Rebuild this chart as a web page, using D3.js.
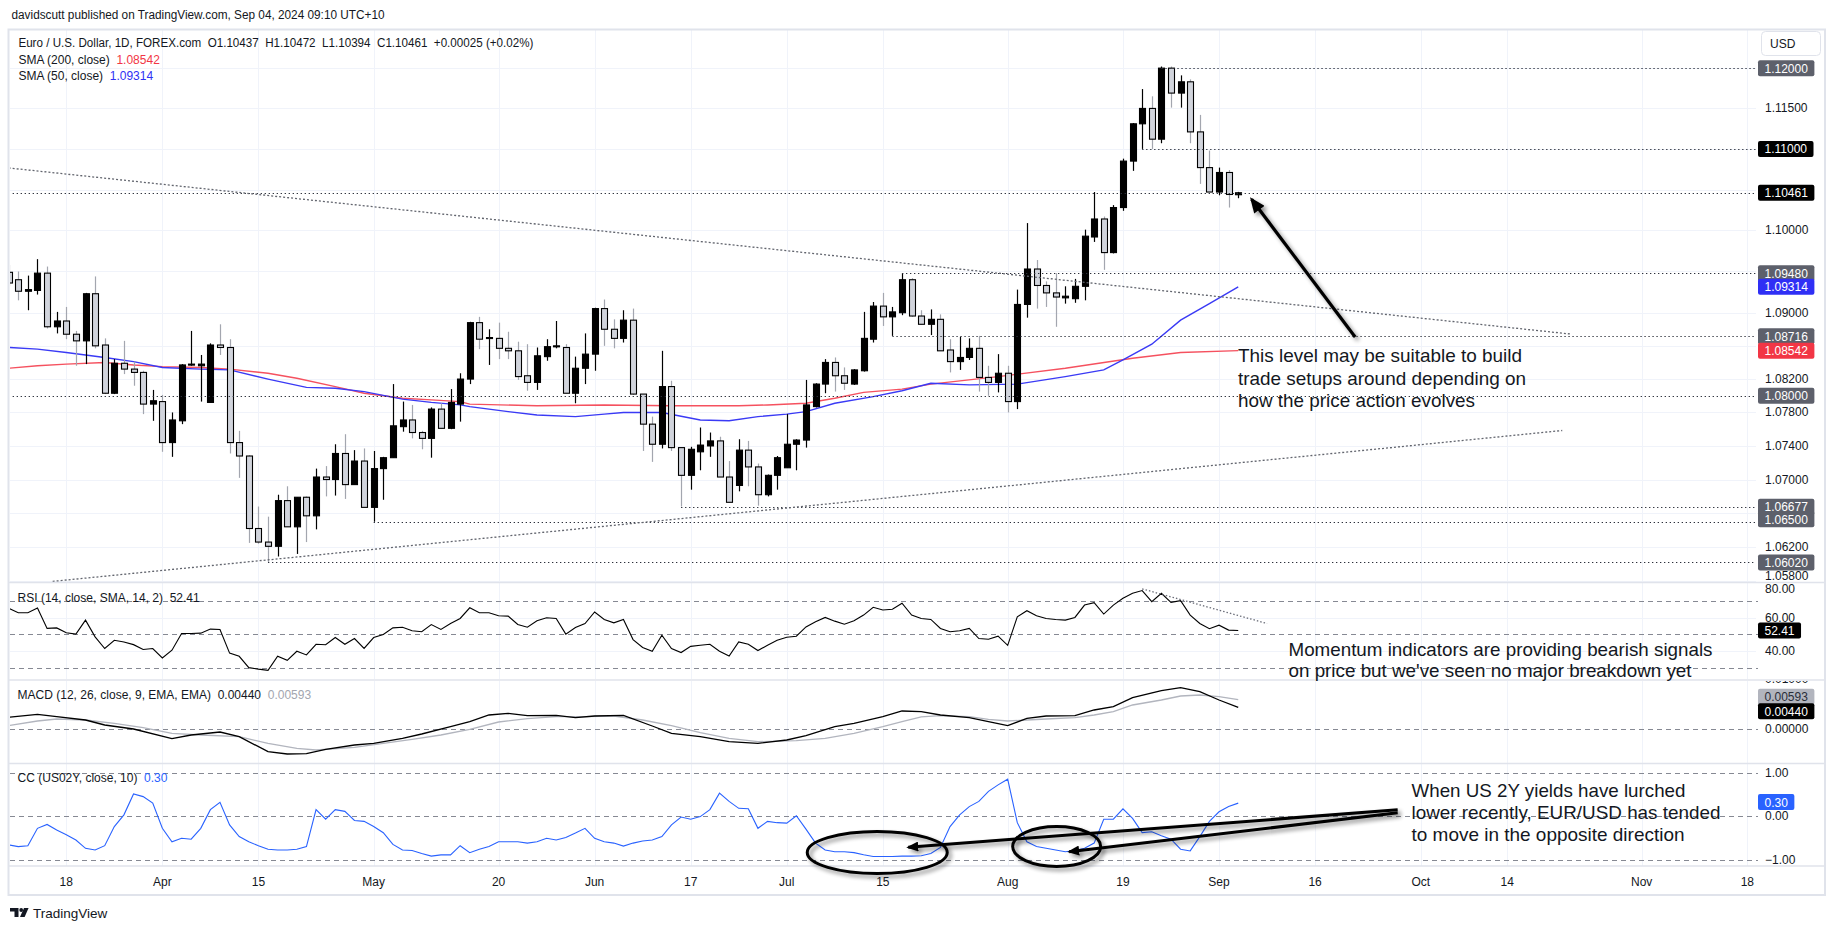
<!DOCTYPE html>
<html><head><meta charset="utf-8">
<script src="https://cdn.jsdelivr.net/npm/d3@7"></script>
<style>
html,body{margin:0;padding:0;background:#fff;}
svg{display:block;}
text{font-family:"Liberation Sans",Arial,sans-serif;white-space:pre;}
</style></head>
<body>
<svg id="chart" width="1835" height="931"></svg>
<script>
// ================= DATA =================
const dates = [
"2024-03-08","2024-03-11","2024-03-12","2024-03-13","2024-03-14","2024-03-15","2024-03-18","2024-03-19","2024-03-20","2024-03-21",
"2024-03-22","2024-03-25","2024-03-26","2024-03-27","2024-03-28","2024-03-29","2024-04-01","2024-04-02","2024-04-03","2024-04-04",
"2024-04-05","2024-04-08","2024-04-09","2024-04-10","2024-04-11","2024-04-12","2024-04-15","2024-04-16","2024-04-17","2024-04-18",
"2024-04-19","2024-04-22","2024-04-23","2024-04-24","2024-04-25","2024-04-26","2024-04-29","2024-04-30","2024-05-01","2024-05-02",
"2024-05-03","2024-05-06","2024-05-07","2024-05-08","2024-05-09","2024-05-10","2024-05-13","2024-05-14","2024-05-15","2024-05-16",
"2024-05-17","2024-05-20","2024-05-21","2024-05-22","2024-05-23","2024-05-24","2024-05-27","2024-05-28","2024-05-29","2024-05-30",
"2024-05-31","2024-06-03","2024-06-04","2024-06-05","2024-06-06","2024-06-07","2024-06-10","2024-06-11","2024-06-12","2024-06-13",
"2024-06-14","2024-06-17","2024-06-18","2024-06-19","2024-06-20","2024-06-21","2024-06-24","2024-06-25","2024-06-26","2024-06-27",
"2024-06-28","2024-07-01","2024-07-02","2024-07-03","2024-07-04","2024-07-05","2024-07-08","2024-07-09","2024-07-10","2024-07-11",
"2024-07-12","2024-07-15","2024-07-16","2024-07-17","2024-07-18","2024-07-19","2024-07-22","2024-07-23","2024-07-24","2024-07-25",
"2024-07-26","2024-07-29","2024-07-30","2024-07-31","2024-08-01","2024-08-02","2024-08-05","2024-08-06","2024-08-07","2024-08-08",
"2024-08-09","2024-08-12","2024-08-13","2024-08-14","2024-08-15","2024-08-16","2024-08-19","2024-08-20","2024-08-21","2024-08-22",
"2024-08-23","2024-08-26","2024-08-27","2024-08-28","2024-08-29","2024-08-30","2024-09-02","2024-09-03","2024-09-04"];

const opens = [
1.0949,1.0940,1.0926,1.0927,1.0948,1.0883,1.0890,1.0874,1.0866,1.0923,
1.0861,1.0803,1.0839,1.0832,1.0828,1.0790,1.0793,1.0744,1.0770,1.0837,
1.0836,1.0792,1.0861,1.0858,1.0744,1.0728,1.0642,1.0626,1.0621,1.0675,
1.0644,1.0679,1.0657,1.0703,1.0700,1.0731,1.0694,1.0722,1.0667,1.0713,
1.0726,1.0763,1.0771,1.0756,1.0749,1.0784,1.0761,1.0790,1.0820,1.0888,
1.0869,1.0869,1.0857,1.0854,1.0824,1.0816,1.0847,1.0859,1.0858,1.0803,
1.0833,1.0850,1.0905,1.0880,1.0869,1.0891,1.0802,1.0766,1.0742,1.0811,
1.0738,1.0705,1.0733,1.0740,1.0746,1.0703,1.0693,1.0735,1.0715,1.0682,
1.0705,1.0714,1.0742,1.0747,1.0787,1.0814,1.0840,1.0824,1.0814,1.0830,
1.0868,1.0908,1.0895,1.0900,1.0940,1.0896,1.0886,1.0892,1.0855,1.0841,
1.0846,1.0857,1.0822,1.0816,1.0827,1.0793,1.0910,1.0953,1.0933,1.0924,
1.0918,1.0917,1.0932,1.0992,1.1014,1.0973,1.1028,1.1085,1.1131,1.1150,
1.1112,1.1200,1.1169,1.1183,1.1121,1.1077,1.1047,1.1071,1.10437];

const highs = [
1.0958,1.0950,1.0945,1.0965,1.0956,1.0901,1.0907,1.0878,1.0924,1.0944,
1.0869,1.0844,1.0866,1.0841,1.0830,1.0807,1.0801,1.0780,1.0838,1.0878,
1.0849,1.0863,1.0886,1.0868,1.0758,1.0729,1.0668,1.0656,1.0682,1.0692,
1.0679,1.0680,1.0713,1.0716,1.0742,1.0754,1.0735,1.0737,1.0734,1.0727,
1.0814,1.0793,1.0789,1.0758,1.0786,1.0791,1.0808,1.0827,1.0889,1.0895,
1.0880,1.0888,1.0877,1.0865,1.0862,1.0858,1.0868,1.0890,1.0862,1.0847,
1.0875,1.0906,1.0916,1.0892,1.0903,1.0905,1.0802,1.0775,1.0854,1.0818,
1.0738,1.0739,1.0762,1.0756,1.0751,1.0722,1.0748,1.0746,1.0719,1.0706,
1.0728,1.0778,1.0748,1.0819,1.0815,1.0844,1.0846,1.0834,1.0832,1.0901,
1.0913,1.0924,1.0907,1.0948,1.0942,1.0903,1.0904,1.0898,1.0868,1.0871,
1.0869,1.0872,1.0836,1.0850,1.0836,1.0928,1.1009,1.0964,1.0938,1.0948,
1.0932,1.0941,1.1001,1.1047,1.1017,1.1031,1.1088,1.1132,1.1174,1.1165,
1.1202,1.1202,1.1191,1.1186,1.1142,1.1098,1.1077,1.1074,1.10472];

const lows = [
1.0932,1.0915,1.0903,1.0922,1.0881,1.0875,1.0868,1.0836,1.0838,1.0857,
1.0802,1.0802,1.0826,1.0812,1.0778,1.0770,1.0733,1.0727,1.0766,1.0836,
1.0793,1.0792,1.0849,1.0731,1.0702,1.0625,1.0624,1.0602,1.0609,1.0644,
1.0612,1.0626,1.0641,1.0680,1.0681,1.0677,1.0694,1.0667,1.0650,1.0676,
1.0726,1.0757,1.0749,1.0736,1.0726,1.0761,1.0760,1.0769,1.0814,1.0856,
1.0837,1.0844,1.0844,1.0819,1.0806,1.0807,1.0842,1.0857,1.0803,1.0791,
1.0814,1.0830,1.0860,1.0857,1.0864,1.0801,1.0734,1.0721,1.0737,1.0734,
1.0668,1.0688,1.0711,1.0727,1.0703,1.0673,1.0686,1.0692,1.0669,1.0680,
1.0688,1.0714,1.0711,1.0738,1.0786,1.0803,1.0805,1.0807,1.0813,1.0829,
1.0864,1.0884,1.0872,1.0897,1.0895,1.0886,1.0873,1.0854,1.0828,1.0831,
1.0843,1.0805,1.0800,1.0804,1.0780,1.0784,1.0894,1.0905,1.0907,1.0883,
1.0911,1.0912,1.0915,1.0986,1.0952,1.0972,1.1024,1.1073,1.1100,1.1100,
1.1107,1.1151,1.1151,1.1107,1.1057,1.1047,1.1043,1.1028,1.10394];

const closes = [
1.0936,1.0926,1.0928,1.0948,1.0883,1.0890,1.0874,1.0866,1.0923,1.0860,
1.0803,1.0839,1.0832,1.0828,1.0790,1.0794,1.0744,1.0771,1.0837,1.0838,
1.0838,1.0861,1.0858,1.0744,1.0728,1.0642,1.0626,1.0621,1.0675,1.0644,
1.0679,1.0657,1.0703,1.0700,1.0731,1.0694,1.0722,1.0667,1.0713,1.0726,
1.0764,1.0771,1.0756,1.0749,1.0784,1.0761,1.0792,1.0820,1.0888,1.0868,
1.0870,1.0857,1.0854,1.0823,1.0816,1.0848,1.0859,1.0860,1.0803,1.0833,
1.0850,1.0905,1.0880,1.0869,1.0891,1.0802,1.0766,1.0742,1.0811,1.0738,
1.0705,1.0736,1.0741,1.0746,1.0703,1.0673,1.0735,1.0715,1.0682,1.0705,
1.0726,1.0742,1.0747,1.0789,1.0814,1.0840,1.0824,1.0815,1.0831,1.0869,
1.0908,1.0895,1.0901,1.0940,1.0896,1.0886,1.0892,1.0854,1.0841,1.0846,
1.0857,1.0822,1.0816,1.0827,1.0793,1.0910,1.0953,1.0933,1.0924,1.0919,
1.0920,1.0932,1.0993,1.1014,1.0973,1.1028,1.1085,1.1131,1.1150,1.1112,
1.1200,1.1169,1.1183,1.1121,1.1077,1.1047,1.1071,1.1044,1.10461];

// SMA lines: [bar slot, value]
const sma50 = [[0,1.0858],[3,1.0856],[6,1.0852],[10,1.0846],[13,1.0841],[16,1.0834],[20,1.0832],[23,1.0831],[27,1.0820],[31,1.0810],[34,1.0809],[37,1.0805],[41,1.0796],[44,1.0792],[47,1.0789],[48,1.0787],[52,1.0781],[55,1.0777],[59,1.0775],[62,1.0778],[64,1.0780],[68,1.0780],[72,1.0771],[75,1.0770],[78,1.0775],[81,1.0778],[83,1.0781],[86,1.0791],[90,1.0799],[93,1.0806],[96,1.0815],[100,1.0813],[105,1.0814],[110,1.0823],[114,1.0831],[116,1.0843],[119,1.0862],[122,1.0891],[125,1.0911],[128,1.09314]];
const sma200 = [[0,1.0833],[3,1.0836],[6,1.0838],[10,1.0840],[13,1.0837],[16,1.0835],[20,1.0834],[23,1.0832],[27,1.0827],[30,1.0821],[34,1.0811],[37,1.0803],[41,1.0797],[44,1.0795],[47,1.0793],[48,1.0790],[55,1.0788],[62,1.0789],[69,1.0788],[76,1.0788],[79,1.0789],[83,1.0791],[86,1.0797],[89,1.0804],[93,1.0808],[96,1.0814],[103,1.0823],[110,1.0833],[117,1.0845],[122,1.0852],[128,1.08542]];

const rsiValues = [
65.5,62.9,62.9,65.7,53.6,53.9,51.0,50.2,58.5,48.6,
41.7,46.6,45.6,44.0,41.1,41.7,36.1,40.7,50.6,50.6,
50.8,53.2,53.0,39.0,37.1,30.4,29.5,28.8,37.1,34.7,
40.1,37.9,44.2,43.9,48.2,44.2,47.6,41.8,48.2,50.0,
53.9,54.3,52.2,51.6,55.9,53.0,56.5,59.5,65.8,62.9,
62.9,61.1,60.9,55.9,54.3,58.1,59.9,59.5,50.2,54.1,
56.5,63.3,58.9,56.9,58.9,47.0,42.3,40.1,49.6,41.7,
39.3,43.0,43.6,44.2,40.1,37.3,45.6,44.2,40.5,43.6,
46.6,48.4,49.0,54.5,57.5,60.1,57.9,56.1,58.1,61.5,
66.1,64.5,64.9,68.5,61.5,59.5,58.9,53.6,51.6,52.2,
53.6,47.6,47.2,49.0,43.6,60.5,64.1,61.1,59.5,58.9,
58.5,60.1,67.4,68.8,62.1,67.4,71.4,74.4,76.0,69.4,
74.4,69.0,70.0,61.5,56.5,53.4,55.5,52.6,52.41];

const macdLine = [[0,0.00239],[3,0.00299],[5,0.00253],[8,0.00186],[10,0.00086],[13,0.00006],[17,-0.00187],[19,-0.00114],[22,-0.00054],[24,-0.00147],[27,-0.00447],[29,-0.00494],[31,-0.00487],[33,-0.00401],[36,-0.00314],[38,-0.00281],[41,-0.00181],[43,-0.00094],[46,0.00053],[48,0.00153],[50,0.00286],[52,0.00319],[54,0.00273],[57,0.00279],[59,0.00233],[61,0.00266],[64,0.00279],[67,0.00066],[69,-0.00081],[72,-0.00147],[75,-0.00247],[78,-0.00281],[81,-0.00214],[83,-0.00127],[86,0.00053],[88,0.00119],[91,0.00253],[93,0.00366],[95,0.00353],[97,0.00286],[100,0.00233],[102,0.00153],[104,0.00073],[106,0.00219],[108,0.00266],[111,0.00273],[113,0.00386],[115,0.00453],[117,0.00633],[120,0.00773],[122,0.00833],[124,0.00753],[126,0.00586],[128,0.00440]];
const macdSignal = [[0,0.00073],[3,0.00166],[5,0.00206],[8,0.00186],[11,0.00119],[14,0.00033],[17,-0.00081],[20,-0.00114],[24,-0.00147],[27,-0.00281],[30,-0.00381],[32,-0.00414],[36,-0.00361],[39,-0.00281],[42,-0.00201],[45,-0.00114],[48,-0.00001],[51,0.00146],[54,0.00213],[57,0.00253],[60,0.00253],[63,0.00266],[66,0.00186],[69,0.00073],[72,-0.00067],[75,-0.00181],[78,-0.00247],[82,-0.00227],[85,-0.00181],[88,-0.00081],[91,0.00053],[93,0.00153],[95,0.00250],[97,0.00273],[100,0.00253],[102,0.00199],[104,0.00166],[106,0.00186],[108,0.00206],[111,0.00233],[113,0.00286],[115,0.00353],[117,0.00486],[120,0.00586],[122,0.00666],[124,0.00686],[126,0.00653],[128,0.00593]];

const ccValues = [
-0.66,-0.70,-0.68,-0.28,-0.19,-0.32,-0.43,-0.55,-0.74,-0.78,
-0.68,-0.24,0.03,0.51,0.45,0.30,-0.28,-0.59,-0.51,-0.53,
-0.28,0.15,0.32,-0.20,-0.47,-0.59,-0.68,-0.76,-0.78,-0.78,
-0.76,-0.70,0.15,-0.07,0.15,0.11,-0.10,-0.12,-0.24,-0.38,
-0.65,-0.78,-0.79,-0.86,-0.92,-0.89,-0.89,-0.68,-0.84,-0.76,
-0.70,-0.59,-0.59,-0.59,-0.62,-0.59,-0.51,-0.55,-0.49,-0.39,
-0.28,-0.51,-0.59,-0.62,-0.69,-0.62,-0.57,-0.55,-0.47,-0.20,
-0.02,-0.07,-0.01,0.15,0.53,0.34,0.18,0.17,-0.28,-0.12,
-0.15,-0.16,0.01,-0.30,-0.62,-0.78,-0.82,-0.82,-0.84,-0.89,
-0.93,-0.93,-0.93,-0.92,-0.92,-0.91,-0.86,-0.72,-0.24,0.03,
0.22,0.34,0.57,0.72,0.85,-0.15,-0.59,-0.70,-0.74,-0.78,
-0.82,-0.79,-0.74,-0.62,-0.07,-0.07,0.17,-0.05,-0.38,-0.36,
-0.45,-0.53,-0.76,-0.80,-0.47,-0.12,0.10,0.22,0.30];

const priceGrid = [1.058,1.062,1.066,1.070,1.074,1.078,1.082,1.086,1.090,1.095,1.100,1.105,1.110,1.115,1.120];
const priceTickLabels = [1.115,1.100,1.090,1.082,1.078,1.074,1.070,1.062,1.058];
const xTicks = [
 ["2024-03-18","18"],["2024-04-01","Apr"],["2024-04-15","15"],["2024-05-01","May"],["2024-05-20","20"],
 ["2024-06-03","Jun"],["2024-06-17","17"],["2024-07-01","Jul"],["2024-07-15","15"],["2024-08-01","Aug"],
 ["2024-08-19","19"],["2024-09-02","Sep"],["2024-09-16","16"],["2024-10-01","Oct"],["2024-10-14","14"],
 ["2024-11-01","Nov"],["2024-11-18","18"]];
// horizontal rays: value, start date, label style
const hLevels = [
 [1.12000,"2024-08-23","gray"],[1.11000,"2024-08-21","black"],[1.10461,"2024-03-08","black"],
 [1.09480,"2024-07-17","gray"],[1.08716,"2024-07-16","gray"],[1.08000,"2024-03-08","gray"],
 [1.06677,"2024-06-14","gray"],[1.06500,"2024-05-01","gray"],[1.06020,"2024-04-16","gray"]];
const rsiTicks = [80,60,40];
const macdTicks = [0.01,0];
const ccTicks = [1,0,-1];

// ================= LAYOUT =================
const svg = d3.select("#chart");
const plotL = 10, plotR = 1756, frameR = 1825, frameB = 895;
const P = {main:[30,582], rsi:[583,679], macd:[681,763], cc:[764,866]};
const parse = d3.timeParse("%Y-%m-%d");
const origin = parse("2024-03-08");
const slotOf = ds => d3.timeDay.range(origin, parse(ds)).filter(d => d.getDay() % 6 !== 0).length;

const x = d3.scaleLinear().domain([0.14, 181.9]).range([plotL, plotR]);
const yP = d3.scaleLog().domain([1.0579, 1.12475]).range([P.main[1], P.main[0]]);
const yR = d3.scaleLinear().domain([23.67, 80.47]).range([P.rsi[1], P.rsi[0]]);
const yM = d3.scaleLinear().domain([-0.00674, 0.00966]).range([P.macd[1], P.macd[0]]);
const yC = d3.scaleLinear().domain([-1.147, 1.20]).range([P.cc[1], P.cc[0]]);

const TXT = "#131722", GRID = "#f0f3fa", SEP = "#e0e3eb";
svg.append("rect").attr("width",1835).attr("height",931).attr("fill","#fff");

const defs = svg.append("defs");
Object.entries(P).forEach(([k,[t,b]])=>{
  defs.append("clipPath").attr("id","clip-"+k).append("rect").attr("x",plotL).attr("y",t).attr("width",plotR-plotL).attr("height",b-t);
  defs.append("clipPath").attr("id","aclip-"+k).append("rect").attr("x",plotR).attr("y",t).attr("width",frameR-plotR).attr("height",b-t);
});
const f = defs.append("filter").attr("id","shadow").attr("filterUnits","userSpaceOnUse").attr("x",0).attr("y",0).attr("width",1835).attr("height",931);
f.append("feGaussianBlur").attr("in","SourceAlpha").attr("stdDeviation",2.2);
f.append("feOffset").attr("dx",3).attr("dy",3).attr("result","ob");
f.append("feComponentTransfer").append("feFuncA").attr("type","linear").attr("slope",0.45);
const fm = f.append("feMerge"); fm.append("feMergeNode"); fm.append("feMergeNode").attr("in","SourceGraphic");
function marker(id, w, h){
  defs.append("marker").attr("id",id).attr("viewBox","0 0 12 10").attr("refX",10).attr("refY",5)
    .attr("markerUnits","userSpaceOnUse").attr("markerWidth",w).attr("markerHeight",h).attr("orient","auto")
    .append("path").attr("d","M0,0 L12,5 L0,10 Z").attr("fill","#000");
}
marker("ahBig",16,13); marker("ahSmall",12,10);

// ---------- grid ----------
const gGrid = svg.append("g");
xTicks.forEach(([d])=>{
  const xx = Math.round(x(slotOf(d)))+0.5;
  Object.values(P).forEach(([t,b])=> gGrid.append("line").attr("x1",xx).attr("x2",xx).attr("y1",t).attr("y2",b).attr("stroke",GRID));
});
priceGrid.forEach(v=>{
  const yy = Math.round(yP(v))+0.5;
  gGrid.append("line").attr("x1",plotL).attr("x2",plotR).attr("y1",yy).attr("y2",yy).attr("stroke",GRID);
});
[60,40].forEach(v=>{ const yy=Math.round(yR(v))+0.5;
  gGrid.append("line").attr("x1",plotL).attr("x2",plotR).attr("y1",yy).attr("y2",yy).attr("stroke",GRID);});
const dashed = (y)=> gGrid.append("line").attr("x1",plotL).attr("x2",plotR+2).attr("y1",Math.round(y)+0.5).attr("y2",Math.round(y)+0.5)
  .attr("stroke","#868993").attr("stroke-dasharray","5,4");
[70,50,30].forEach(v=>dashed(yR(v)));
dashed(yM(0));
[1,0,-1].forEach(v=>dashed(yC(v)));

// ---------- main pane ----------
const gMain = svg.append("g").attr("clip-path","url(#clip-main)");
const candles = dates.map((d,i)=>({s:slotOf(d),o:opens[i],h:highs[i],l:lows[i],c:closes[i]}));
const cx = d => Math.round(x(d.s))+0.5;
const line = (ys)=> d3.line().x(d=>x(d[0])).y(d=>ys(d[1]));

gMain.append("path").attr("d",line(yP)(sma200)).attr("fill","none").attr("stroke","#f5515f").attr("stroke-width",1.4);
gMain.append("path").attr("d",line(yP)(sma50)).attr("fill","none").attr("stroke","#3a3af5").attr("stroke-width",1.4);

gMain.selectAll(".wick").data(candles).join("line")
  .attr("x1",cx).attr("x2",cx).attr("y1",d=>yP(d.h)).attr("y2",d=>yP(d.l))
  .attr("stroke",d=>d.c>=d.o?"#000":"#a3a6af").attr("stroke-width",1.2);
gMain.selectAll(".body").data(candles).join("rect")
  .attr("x",d=>cx(d)-3).attr("width",6)
  .attr("y",d=>Math.min(yP(d.o),yP(d.c)))
  .attr("height",d=>Math.max(1,Math.abs(yP(d.o)-yP(d.c))))
  .attr("fill",d=>d.c>=d.o?"#000":"#d1d4dc").attr("stroke","#000").attr("stroke-width",1.1);

hLevels.forEach(([v,d])=>{
  const yy = Math.round(yP(v))+0.5;
  gMain.append("line").attr("x1",x(slotOf(d))).attr("x2",plotR).attr("y1",yy).attr("y2",yy)
    .attr("stroke","#2a2e39").attr("stroke-width",1.2).attr("stroke-dasharray","1.3,2.7");
});
const trendLines = [[[0,1.10766],[162.7,1.08741]],[[4.58,1.05797],[161.73,1.07584]]];
trendLines.forEach(tl=>{
  gMain.append("path").attr("d",line(yP)(tl)).attr("stroke","#62656e").attr("stroke-width",1.3)
    .attr("stroke-dasharray","2,2").attr("fill","none");
});

// ---------- RSI ----------
const gR = svg.append("g").attr("clip-path","url(#clip-rsi)");
gR.append("path").attr("d",d3.line().x((d,i)=>x(candles[i].s)).y(d=>yR(d))(rsiValues))
  .attr("fill","none").attr("stroke","#000").attr("stroke-width",1.1);
gR.append("path").attr("d",line(yR)([[118,77],[131,56.5]])).attr("stroke","#6a6d78").attr("stroke-width",1.3)
  .attr("stroke-dasharray","1.5,2").attr("fill","none");

// ---------- MACD ----------
const gM = svg.append("g").attr("clip-path","url(#clip-macd)");
gM.append("path").attr("d",line(yM)(macdSignal)).attr("fill","none").attr("stroke","#b2b5be").attr("stroke-width",1.3);
gM.append("path").attr("d",line(yM)(macdLine)).attr("fill","none").attr("stroke","#000").attr("stroke-width",1.3);

// ---------- CC ----------
const gC = svg.append("g").attr("clip-path","url(#clip-cc)");
gC.append("path").attr("d",d3.line().x((d,i)=>x(candles[i].s)).y(d=>yC(d))(ccValues))
  .attr("fill","none").attr("stroke","#2962ff").attr("stroke-width",1.1);

// ---------- separators & frame ----------
const gF = svg.append("g");
[582.5,680,763.5,866].forEach(y=> gF.append("line").attr("x1",8).attr("x2",frameR).attr("y1",y).attr("y2",y).attr("stroke",SEP).attr("stroke-width",1.5));
gF.append("rect").attr("x",8.5).attr("y",29.5).attr("width",frameR-8.5).attr("height",frameB-29.5)
  .attr("fill","none").attr("stroke",SEP).attr("stroke-width",2);

// ---------- annotations ----------
const gA = svg.append("g");
const shadowLine = (g, pts, ys, w, mk)=> g.append("path").attr("d",line(ys)(pts)).attr("fill","none")
   .attr("stroke","#000").attr("stroke-width",w).attr("marker-end","url(#"+mk+")").attr("filter","url(#shadow)");
shadowLine(gA, [[140.17,1.08706],[129.39,1.10381]], yP, 3.2, "ahBig");
shadowLine(gA, [[144.6,0.145],[93.65,-0.716]], yC, 3, "ahSmall");
shadowLine(gA, [[144.6,0.076],[110.4,-0.818]], yC, 3, "ahSmall");
[[90.42,-0.836,70,21],[109.1,-0.70,44,20]].forEach(([s,v,rx,ry])=>{
  gA.append("ellipse").attr("cx",x(s)).attr("cy",yC(v)).attr("rx",rx).attr("ry",ry)
    .attr("fill","none").attr("stroke","#000").attr("stroke-width",3).attr("filter","url(#shadow)");
});

function noteLines(lines, x0, ys, size){
  lines.forEach(([t,w],k)=>{
    gA.append("text").attr("x",x0).attr("y",ys[k]).attr("dominant-baseline","central")
      .attr("font-size",size).attr("fill","#131722").text(t)
      .attr("textLength",w).attr("lengthAdjust","spacingAndGlyphs");
  });
}
noteLines([["This level may be suitable to build",284],["trade setups around depending on",288],["how the price action evolves",237]],1238,[355,378,400.5],19);
noteLines([["Momentum indicators are providing bearish signals",424],["on price but we've seen no major breakdown yet",403]],1288.5,[649,670.5],19);
noteLines([["When US 2Y yields have lurched",274],["lower recently, EUR/USD has tended",309],["to move in the opposite direction",273]],1411.5,[790,812,834],19);

// ---------- x axis labels ----------
const gX = svg.append("g");
xTicks.forEach(([d,l])=>{
  gX.append("text").attr("x",x(slotOf(d))).attr("y",882).attr("text-anchor","middle").attr("dominant-baseline","central")
    .attr("font-size",12).attr("fill",TXT).text(l);
});

// ---------- price axis ----------
const gY = svg.append("g");
function axisText(g, y, t, clip){
  g.append("text").attr("x",1765).attr("y",y).attr("dominant-baseline","central").attr("font-size",12)
   .attr("fill",TXT).attr("clip-path",clip?"url(#aclip-"+clip+")":null).text(t);
}
function axisBox(y, t, bg, fg, clip){
  const g = gY.append("g").attr("clip-path",clip?"url(#aclip-"+clip+")":null);
  const r = g.append("rect").attr("x",1758).attr("y",y-8).attr("height",16).attr("rx",2).attr("fill",bg);
  const tx = g.append("text").attr("x",1764.5).attr("y",y+0.5).attr("dominant-baseline","central").attr("font-size",12)
    .attr("fill",fg).text(t);
  r.attr("width", tx.node().getComputedTextLength()+13);
}
// the lowest price label sits at the pane edge and is partly cut, as in the reference
priceTickLabels.forEach(v=> axisText(gY, v===1.058 ? yP(v)-5 : yP(v), d3.format(".5f")(v), "main"));
const lvlColor = {gray:"#5d606b", black:"#000"};
hLevels.forEach(([v,d,c])=>{
  let yy = yP(v);
  if (v===1.065) yy -= 2.5;
  axisBox(yy, d3.format(".5f")(v), lvlColor[c], "#fff", "main");
});
axisBox(yP(1.09314), "1.09314", "#2f2ff5", "#fff", "main");
axisBox(yP(1.08542), "1.08542", "#f23645", "#fff", "main");
gY.append("rect").attr("x",1761.5).attr("y",31.5).attr("width",59).attr("height",24).attr("rx",4).attr("fill","#fff").attr("stroke",SEP);
gY.append("text").attr("x",1770).attr("y",44).attr("dominant-baseline","central").attr("font-size",12).attr("fill",TXT).text("USD");
rsiTicks.forEach(v=> axisText(gY, v===80 ? yR(v)+5 : yR(v), d3.format(".2f")(v), "rsi"));
axisBox(yR(52.41), "52.41", "#000", "#fff", "rsi");
macdTicks.forEach(v=> axisText(gY, yM(v), d3.format(".5f")(v), "macd"));
axisBox(yM(0.00593)-3, "0.00593", "#b2b5be", "#2a2e39", "macd");
axisBox(yM(0.00440)+4, "0.00440", "#000", "#fff", "macd");
ccTicks.forEach(v=> axisText(gY, yC(v), (v<0?"\u2212":"")+d3.format(".2f")(Math.abs(v)), "cc"));
axisBox(yC(0.30)-1, "0.30", "#2962ff", "#fff", "cc");

// ---------- legends ----------
const gL = svg.append("g").attr("font-size",12).attr("fill",TXT);
gL.append("text").attr("x",11.5).attr("y",15).attr("dominant-baseline","central").attr("textLength",373).attr("lengthAdjust","spacingAndGlyphs")
  .text("davidscutt published on TradingView.com, Sep 04, 2024 09:10 UTC+10");
const leg = (x0,y,parts)=>{
  const t = gL.append("text").attr("x",x0).attr("y",y).attr("dominant-baseline","central");
  parts.forEach(([s,c])=> t.append("tspan").attr("fill",c||TXT).text(s));
  return t;
};
leg(18.4,43,[["Euro / U.S. Dollar, 1D, FOREX.com  O1.10437  H1.10472  L1.10394  C1.10461  +0.00025 (+0.02%)"]])
  .attr("textLength",515).attr("lengthAdjust","spacingAndGlyphs");
leg(18.4,60,[["SMA (200, close)  "],["1.08542","#f23645"]]);
leg(18.4,76,[["SMA (50, close)  "],["1.09314","#2f2ff5"]]);
leg(17.6,598,[["RSI (14, close, SMA, 14, 2)  "],["52.41"]]);
leg(17.6,695,[["MACD (12, 26, close, 9, EMA, EMA)  "],["0.00440  "],["0.00593","#a3a6af"]]);
leg(17.6,778,[["CC (US02Y, close, 10)  "],["0.30","#2962ff"]]);

// ---------- TradingView footer ----------
const gT = svg.append("g").attr("fill","#131722");
gT.append("path").attr("d","M10,908 h8.5 v9 h-4 v-5.5 h-4.5 Z");
gT.append("circle").attr("cx",21.2).attr("cy",910).attr("r",1.9);
gT.append("path").attr("d","M24,908 h4.6 l-4,9 h-4.6 Z");
gT.append("text").attr("x",33).attr("y",913).attr("dominant-baseline","central").attr("font-size",13.5).text("TradingView");
</script>
</body></html>
